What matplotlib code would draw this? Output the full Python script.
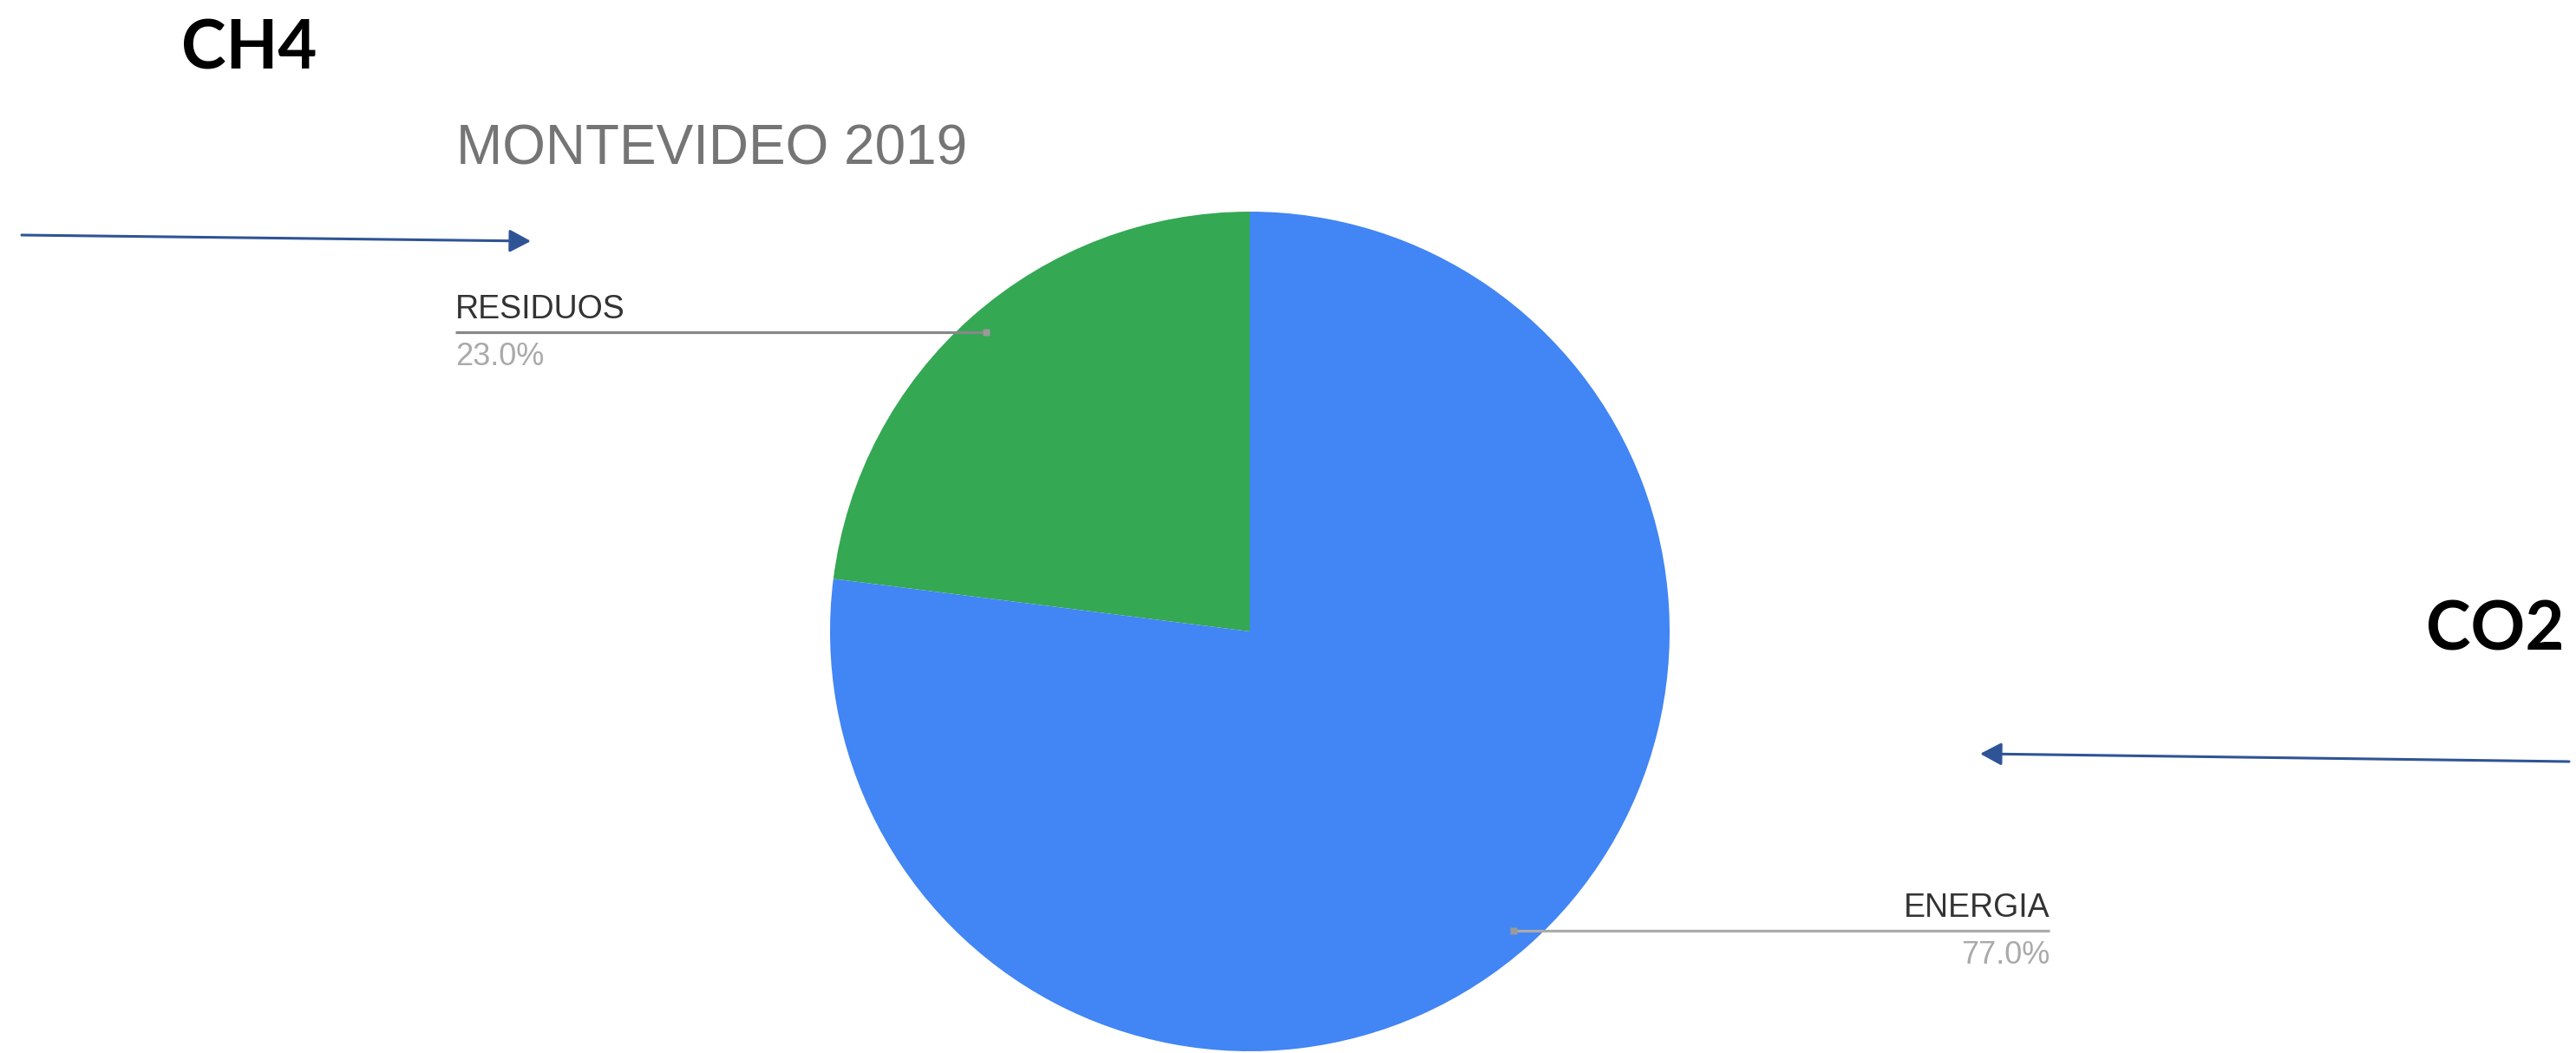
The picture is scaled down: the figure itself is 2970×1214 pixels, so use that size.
import numpy as np
import matplotlib
matplotlib.use('Agg')
import matplotlib.pyplot as plt

W, H = 2970, 1214

labels = ['RESIDUOS', 'ENERGIA']
shares = [23.0, 77.0]
colors = ['#34a853', '#4285f4']
title = 'MONTEVIDEO 2019'
gases = ['CH4', 'CO2']

fig = plt.figure(figsize=(W / 100, H / 100), dpi=100)
fig.patch.set_facecolor('white')
ax = fig.add_axes([0, 0, 1, 1])

cx, cy, r = 1441, H - 728, 484
wedges, _ = ax.pie(shares, colors=colors, startangle=90, counterclock=True,
                   center=(cx, cy), radius=r,
                   wedgeprops=dict(linewidth=0, antialiased=True))
ax.set_xlim(0, W)
ax.set_ylim(0, H)
ax.set_aspect('equal')
ax.axis('off')

lab_font = ['Liberation Sans', 'DejaVu Sans']

# title
ax.text(526, H - 189, title, fontsize=46, color='#757575', family=lab_font,
        ha='left', va='baseline')

# leader lines + labels (google-chart style)
line_end = {'RESIDUOS': 525, 'ENERGIA': 2363}
line_col = {'RESIDUOS': '#888888', 'ENERGIA': '#ababab'}
for w, lab, val in zip(wedges, labels, shares):
    mid = np.deg2rad((w.theta1 + w.theta2) / 2)
    px = cx + 0.95 * r * np.cos(mid)
    py = cy + 0.95 * r * np.sin(mid)
    xe = line_end[lab]
    ax.plot([px, xe], [py, py], color=line_col[lab], lw=2.3,
            solid_capstyle='butt', zorder=3)
    ax.plot(px, py, marker='s', ms=6, color='#9a9a9a', mec='none', zorder=4)
    ha = 'left' if xe < px else 'right'
    ax.text(xe, py + 16, lab, fontsize=27, color='#333333', family=lab_font,
            ha=ha, va='baseline')
    ax.text(xe, py - 38, '%.1f%%' % val, fontsize=26, color='#aaaaaa',
            family=lab_font, ha=ha, va='baseline')

# gas annotations
gas_font = ['Lato', 'Liberation Sans', 'DejaVu Sans']
ax.text(209, H - 79, gases[0], fontsize=56, fontweight='bold', color='black',
        family=gas_font, ha='left', va='baseline')
ax.text(2957, H - 749, gases[1], fontsize=56, fontweight='bold', color='black',
        family=gas_font, ha='right', va='baseline')

arrow_kw = dict(arrowstyle='-|>,head_length=0.75,head_width=0.4',
                color='#2f5496', lw=2.2, shrinkA=0, shrinkB=0,
                mutation_scale=20)
ax.annotate('', xy=(612, H - 278), xytext=(25, H - 271), arrowprops=arrow_kw)
ax.annotate('', xy=(2283, H - 869), xytext=(2962, H - 878), arrowprops=arrow_kw)

fig.savefig('out.png', dpi=100, facecolor='white')
